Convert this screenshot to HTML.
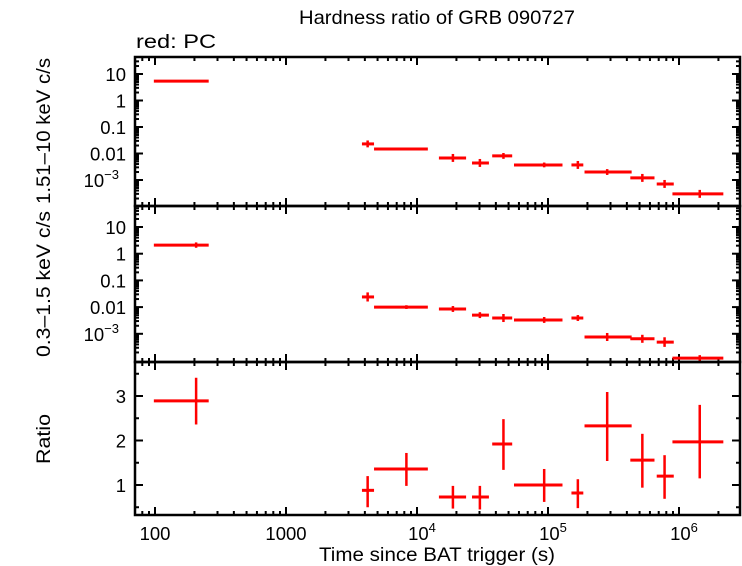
<!DOCTYPE html>
<html><head><meta charset="utf-8"><style>
body{margin:0;background:#fff}
svg{display:block;font-family:"Liberation Sans",sans-serif}
</style></head><body>
<svg id="chart" width="742" height="566" viewBox="0 0 742 566" xmlns="http://www.w3.org/2000/svg">
<text x="437" y="24" font-size="19.5" text-anchor="middle" textLength="276" lengthAdjust="spacingAndGlyphs">Hardness ratio of GRB 090727</text>
<text x="136" y="48" font-size="19" textLength="80" lengthAdjust="spacingAndGlyphs">red: PC</text>
<text x="437" y="561" font-size="19.5" text-anchor="middle" textLength="236" lengthAdjust="spacingAndGlyphs">Time since BAT trigger (s)</text>
<text transform="translate(50,131) rotate(-90)" font-size="19.5" text-anchor="middle" textLength="146" lengthAdjust="spacingAndGlyphs">1.51–10 keV c/s</text>
<text transform="translate(50,284) rotate(-90)" font-size="19.5" text-anchor="middle" textLength="146" lengthAdjust="spacingAndGlyphs">0.3–1.5 keV c/s</text>
<text transform="translate(50,439) rotate(-90)" font-size="19.5" text-anchor="middle" textLength="50" lengthAdjust="spacingAndGlyphs">Ratio</text>
<g id="plot"></g>
</svg>
<script>
const tMid=[206,4200,8300,18800,30200,45700,93500,169000,283000,525000,776000,1440000];
const tLo=[98,3800,4700,14700,26300,37500,55000,151000,190000,425000,676000,891000];
const tHi=[257,4700,12100,23700,35400,53300,129000,186000,435000,650000,912000,2180000];
const hardVal=[5.4,0.023,0.0148,0.0068,0.0044,0.0081,0.0037,0.0037,0.0020,0.0012,0.00071,0.00030];
const hardErr=[0.04,0.13,0.05,0.15,0.15,0.11,0.09,0.15,0.11,0.15,0.15,0.15];
const softVal=[2.1,0.024,0.010,0.0085,0.0050,0.0039,0.0033,0.0039,0.00076,0.00065,0.00049,0.000123];
const softErr=[0.1,0.17,0.07,0.11,0.11,0.15,0.11,0.11,0.15,0.15,0.18,0.11];
const ratioVal=[2.89,0.88,1.36,0.73,0.73,1.92,1.0,0.82,2.33,1.56,1.2,1.97];
const ratioLo=[2.36,0.5,0.98,0.47,0.45,1.34,0.62,0.48,1.54,0.94,0.69,1.15];
const ratioHi=[3.41,1.2,1.72,0.98,0.98,2.48,1.36,1.13,3.09,2.15,1.67,2.8];
const logTickLabels=["10","1","0.1","0.01"];
const ratioTicks=[1,2,3];
const xTickLabels=["100","1000"];

const NS="http://www.w3.org/2000/svg";
const g=document.getElementById('plot');
const X0=135,X1=740;
const FS=18.5;
function xs(t){return 155+(Math.log10(t)-2)*131;}
const panels=[
 {top:57,bot:206,y:v=>74+(1-Math.log10(v))*26.5,name:'hard'},
 {top:206,bot:362,y:v=>227+(1-Math.log10(v))*26.7,name:'soft'},
 {top:362,bot:515,y:v=>396+(3-v)*44.5,name:'ratio'}
];
function line(x1,y1,x2,y2,w,c,n){const l=document.createElementNS(NS,'line');
l.setAttribute('x1',x1);l.setAttribute('y1',y1);l.setAttribute('x2',x2);l.setAttribute('y2',y2);
l.setAttribute('stroke',c);l.setAttribute('stroke-width',w);


g.appendChild(l);return l;}
function text(x,y,s,anchor,n,size){const t=document.createElementNS(NS,'text');
t.setAttribute('x',x);t.setAttribute('y',y);t.setAttribute('font-size',size||FS);t.setAttribute('text-anchor',anchor);
t.textContent=s;


g.appendChild(t);return t;}
function sup(x,y,base,exp,n){const t=text(x,y,'','end',n);
const a=document.createElementNS(NS,'tspan');a.textContent=base;t.appendChild(a);
const b=document.createElementNS(NS,'tspan');b.textContent=exp;b.setAttribute('font-size','13');b.setAttribute('dy','-8');t.appendChild(b);return t;}

panels.forEach((p,pi)=>{
 for(let d=1;d<=6;d++){for(let m=1;m<10;m++){const t=m*Math.pow(10,d);const x=xs(t);
  if(x<X0+2||x>X1-2)continue;const L=m===1?8:4;
  line(x,p.top,x,p.top+L,2,'#000','x-tick');line(x,p.bot,x,p.bot-L,2,'#000','x-tick');}}
 if(pi<2){
  for(let e=-4;e<=1;e++){for(let m=1;m<10;m++){const v=m*Math.pow(10,e);const y=p.y(v);
   if(y<p.top+2||y>p.bot-2)continue;const L=m===1?8:4;
   line(X0,y,X0+L,y,2,'#000','y-tick');line(X1,y,X1-L,y,2,'#000','y-tick');}}
  [10,1,0.1,0.01].forEach((v,i)=>text(126,p.y(v)+7,logTickLabels[i],'end','y-tick-label'));
  sup(119,p.y(0.001)+7,'10','−3','y-tick-label');
 } else {
  for(let v=0.5;v<3.8;v+=0.5){const y=p.y(v);if(y<p.top+2||y>p.bot-2)continue;
   const L=(Math.abs(v-Math.round(v))<0.01)?8:4;
   line(X0,y,X0+L,y,2,'#000','y-tick');line(X1,y,X1-L,y,2,'#000','y-tick');}
  ratioTicks.forEach(v=>text(126,p.y(v)+7,String(v),'end','y-tick-label'));
 }
 for(let i=0;i<tMid.length;i++){
  const xm=xs(tMid[i]),xa=xs(tLo[i]),xb=xs(tHi[i]);
  let yc,ya,yb;
  if(pi===0){yc=p.y(hardVal[i]);ya=p.y(hardVal[i]*Math.pow(10,-hardErr[i]));yb=p.y(hardVal[i]*Math.pow(10,hardErr[i]));}
  else if(pi===1){yc=p.y(softVal[i]);ya=p.y(softVal[i]*Math.pow(10,-softErr[i]));yb=p.y(softVal[i]*Math.pow(10,softErr[i]));}
  else{yc=p.y(ratioVal[i]);ya=p.y(ratioLo[i]);yb=p.y(ratioHi[i]);}
  line(xa,yc,xb,yc,3,'#f00',p.name+'-point-'+(i+1)+'-xerr');
  line(xm,ya,xm,yb,2.5,'#f00',p.name+'-point-'+(i+1)+'-yerr');
 }
 const r=document.createElementNS(NS,'rect');
 r.setAttribute('x',X0);r.setAttribute('y',p.top);r.setAttribute('width',X1-X0);r.setAttribute('height',p.bot-p.top);
 r.setAttribute('fill','none');r.setAttribute('stroke','#000');r.setAttribute('stroke-width','2.5');
 
 
 g.appendChild(r);
});
text(xs(100),540,xTickLabels[0],'middle','x-tick-label');
text(xs(1000),540,xTickLabels[1],'middle','x-tick-label');
[4,5,6].forEach(e=>{const t=text(xs(Math.pow(10,e))+5,540,'','middle','x-tick-label');
 const a=document.createElementNS(NS,'tspan');a.textContent='10';t.appendChild(a);
 const b=document.createElementNS(NS,'tspan');b.textContent=String(e);b.setAttribute('font-size','13');b.setAttribute('dy','-8');t.appendChild(b);});
</script>
</body></html>
